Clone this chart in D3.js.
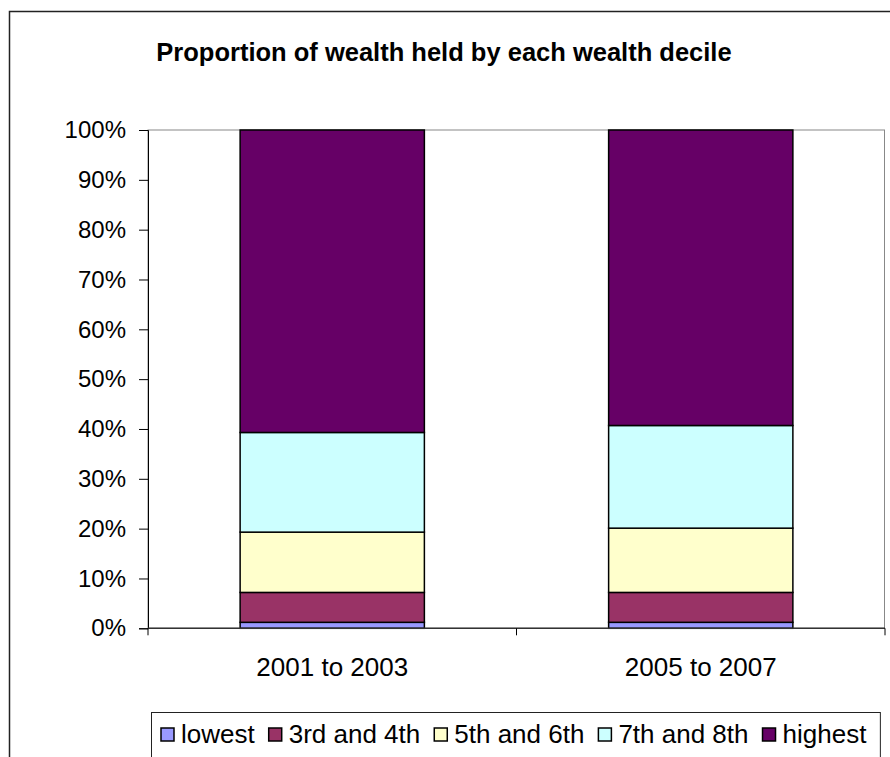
<!DOCTYPE html>
<html>
<head>
<meta charset="utf-8">
<script src="https://cdn.jsdelivr.net/npm/d3@7"></script>
<style>
  body { margin: 0; background: #fff; }
  text { font-family: "Liberation Sans", Arial, sans-serif; fill: #000; }
</style>
</head>
<body>
<div id="viz"></div>
<script>
const width = 890;
const height = 757;
const margin = { top: 130, right: 5, bottom: 129, left: 148 };

// data (percent of total wealth)
const periods = ["2001 to 2003", "2005 to 2007"];
const groups = ["lowest", "3rd and 4th", "5th and 6th", "7th and 8th", "highest"];
const lowest = [1.2, 1.2];
const third4th = [6.0, 6.0];
const fifth6th = [12.1, 12.9];
const seventh8th = [20.0, 20.6];
const highest = [60.7, 59.3];
const yTicks = [0, 10, 20, 30, 40, 50, 60, 70, 80, 90, 100];
const colors = ["#9999ff", "#993366", "#ffffcc", "#ccffff", "#660066"];

const rows = periods.map((p, i) => ({
    period: p,
    "lowest": lowest[i],
    "3rd and 4th": third4th[i],
    "5th and 6th": fifth6th[i],
    "7th and 8th": seventh8th[i],
    "highest": highest[i]
}));

const svg = d3.select('#viz')
    .append('svg')
        .attr('width', width)
        .attr('height', height);

// outer chart frame (runs off the right and bottom edges)
svg.append('rect')
    .attr('x', 9.5)
    .attr('y', 11.5)
    .attr('width', 900)
    .attr('height', 800)
    .attr('fill', 'none')
    .attr('stroke', '#222')
    .attr('stroke-width', 1.5);

svg.append('text')
    .attr('x', 444)
    .attr('y', 61)
    .attr('text-anchor', 'middle')
    .style('font-weight', 'bold')
    .style('font-size', '25.5px')
    .text('Proportion of wealth held by each wealth decile');

const x0 = margin.left;
const x1 = width - margin.right;
const yBottom = height - margin.bottom + 0.3;

let xScale = d3.scaleBand()
    .domain(periods)
    .range([x0, x1])
    .paddingInner(0.5)
    .paddingOuter(0.25);

let yScale = d3.scaleLinear()
    .domain([0, 100])
    .range([yBottom, margin.top]);

// plot area border
svg.append('rect')
    .attr('x', x0)
    .attr('y', yScale(100))
    .attr('width', x1 - x0 - 0.5)
    .attr('height', yScale(0) - yScale(100))
    .attr('fill', 'none')
    .attr('stroke', '#888')
    .attr('stroke-width', 1);

let stack = d3.stack().keys(groups);
let series = stack(rows);

svg.append('g')
    .selectAll('g')
    .data(series)
    .join('g')
        .attr('fill', (d, i) => colors[i])
    .selectAll('rect')
    .data(d => d)
    .join('rect')
        .attr('x', d => xScale(d.data.period))
        .attr('y', d => yScale(d[1]))
        .attr('width', xScale.bandwidth())
        .attr('height', d => yScale(d[0]) - yScale(d[1]))
        .attr('stroke', '#000')
        .attr('stroke-width', 1.5);

// y axis
const yAxis = svg.append('g')
    .attr('transform', `translate(${x0}, 0)`)
    .call(d3.axisLeft(yScale)
        .tickValues(yTicks)
        .tickFormat(d => d + '%')
        .tickSize(9)
        .tickPadding(13));
yAxis.selectAll('text').style('font-size', '24px').attr('font-family', null);
yAxis.select('.domain').attr('stroke', '#000');

// x axis: ticks at the category boundaries
const step = xScale.step();
const bounds = [x0, x0 + step, x1];
const xAxis = svg.append('g');
xAxis.append('line')
    .attr('x1', x0).attr('x2', x1)
    .attr('y1', yBottom).attr('y2', yBottom)
    .attr('stroke', '#333')
    .attr('stroke-width', 1.5);
xAxis.selectAll('.tick')
    .data(bounds)
    .join('line')
        .attr('x1', d => d).attr('x2', d => d)
        .attr('y1', yBottom).attr('y2', yBottom + 7)
        .attr('stroke', '#000');
xAxis.selectAll('text')
    .data(periods)
    .join('text')
        .attr('x', d => xScale(d) + xScale.bandwidth() / 2)
        .attr('y', yBottom + 48)
        .attr('text-anchor', 'middle')
        .style('font-size', '26px')
        .text(d => d);

// legend
const legend = svg.append('g');
const legendBox = legend.append('rect')
    .attr('fill', '#fff')
    .attr('stroke', '#222')
    .attr('stroke-width', 1);
let lx = 161;
const items = legend.selectAll('g')
    .data(groups)
    .join('g');
items.each(function (d, i) {
    const g = d3.select(this);
    g.append('rect')
        .attr('x', lx)
        .attr('y', 728)
        .attr('width', 13)
        .attr('height', 13)
        .attr('fill', colors[i])
        .attr('stroke', '#000')
        .attr('stroke-width', 1.5);
    const t = g.append('text')
        .attr('x', lx + 20)
        .attr('y', 743)
        .style('font-size', '26px')
        .text(d);
    lx += 20 + t.node().getComputedTextLength() + 14;
});
legendBox
    .attr('x', 151.5)
    .attr('y', 712.5)
    .attr('width', lx - 151.5)
    .attr('height', 60);
</script>
</body>
</html>
